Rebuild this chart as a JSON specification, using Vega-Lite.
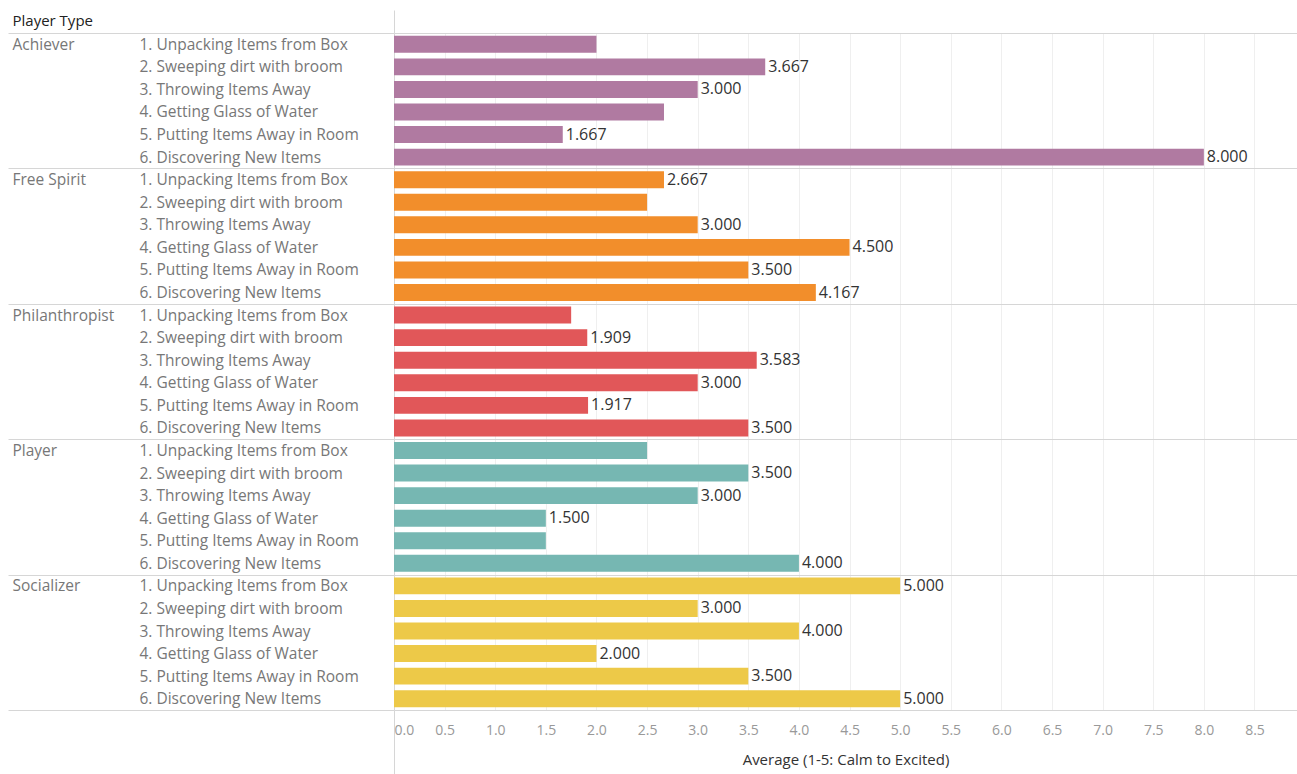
{
  "$schema": "https://vega.github.io/schema/vega-lite/v6.json",
  "width": 903,
  "height": 677,
  "padding": {"left": 7, "top": 9, "right": 0, "bottom": 0},
  "background": "white",
  "config": {"view": {"stroke": null}, "font": "Open Sans"},
  "data": {"values": [
    {"type": "Achiever", "activity": "1. Unpacking Items from Box", "value": 2.0, "shown": false},
    {"type": "Achiever", "activity": "2. Sweeping dirt with broom", "value": 3.667, "shown": true},
    {"type": "Achiever", "activity": "3. Throwing Items Away", "value": 3.0, "shown": true},
    {"type": "Achiever", "activity": "4. Getting Glass of Water", "value": 2.667, "shown": false},
    {"type": "Achiever", "activity": "5. Putting Items Away in Room", "value": 1.667, "shown": true},
    {"type": "Achiever", "activity": "6. Discovering New Items", "value": 8.0, "shown": true},
    {"type": "Free Spirit", "activity": "1. Unpacking Items from Box", "value": 2.667, "shown": true},
    {"type": "Free Spirit", "activity": "2. Sweeping dirt with broom", "value": 2.5, "shown": false},
    {"type": "Free Spirit", "activity": "3. Throwing Items Away", "value": 3.0, "shown": true},
    {"type": "Free Spirit", "activity": "4. Getting Glass of Water", "value": 4.5, "shown": true},
    {"type": "Free Spirit", "activity": "5. Putting Items Away in Room", "value": 3.5, "shown": true},
    {"type": "Free Spirit", "activity": "6. Discovering New Items", "value": 4.167, "shown": true},
    {"type": "Philanthropist", "activity": "1. Unpacking Items from Box", "value": 1.75, "shown": false},
    {"type": "Philanthropist", "activity": "2. Sweeping dirt with broom", "value": 1.909, "shown": true},
    {"type": "Philanthropist", "activity": "3. Throwing Items Away", "value": 3.583, "shown": true},
    {"type": "Philanthropist", "activity": "4. Getting Glass of Water", "value": 3.0, "shown": true},
    {"type": "Philanthropist", "activity": "5. Putting Items Away in Room", "value": 1.917, "shown": true},
    {"type": "Philanthropist", "activity": "6. Discovering New Items", "value": 3.5, "shown": true},
    {"type": "Player", "activity": "1. Unpacking Items from Box", "value": 2.5, "shown": false},
    {"type": "Player", "activity": "2. Sweeping dirt with broom", "value": 3.5, "shown": true},
    {"type": "Player", "activity": "3. Throwing Items Away", "value": 3.0, "shown": true},
    {"type": "Player", "activity": "4. Getting Glass of Water", "value": 1.5, "shown": true},
    {"type": "Player", "activity": "5. Putting Items Away in Room", "value": 1.5, "shown": false},
    {"type": "Player", "activity": "6. Discovering New Items", "value": 4.0, "shown": true},
    {"type": "Socializer", "activity": "1. Unpacking Items from Box", "value": 5.0, "shown": true},
    {"type": "Socializer", "activity": "2. Sweeping dirt with broom", "value": 3.0, "shown": true},
    {"type": "Socializer", "activity": "3. Throwing Items Away", "value": 4.0, "shown": true},
    {"type": "Socializer", "activity": "4. Getting Glass of Water", "value": 2.0, "shown": true},
    {"type": "Socializer", "activity": "5. Putting Items Away in Room", "value": 3.5, "shown": true},
    {"type": "Socializer", "activity": "6. Discovering New Items", "value": 5.0, "shown": true}
  ]},
  "transform": [{"calculate": "datum.type + '|' + datum.activity", "as": "key"}],
  "layer": [
    {
      "mark": {"type": "bar"},
      "encoding": {
        "y": {
          "field": "type", "type": "nominal", "sort": null,
          "scale": {"paddingInner": 0, "paddingOuter": 0},
          "axis": {
            "orient": "left",
            "title": "Player Type", "titleAngle": 0, "titleX": -382, "titleY": -13,
            "titleAlign": "left", "titleBaseline": "middle", "titleFontSize": 15,
            "titleFontWeight": "normal", "titleColor": "#222",
            "tickBand": "extent", "ticks": true, "tickSize": 386, "tickColor": "#d6d6d6",
            "grid": true, "gridColor": "#d6d6d6",
            "domain": true, "domainColor": "#d6d6d6",
            "labelAlign": "left", "labelBaseline": "middle", "labelPadding": -4,
            "labelOffset": -56.4, "labelFontSize": 15.5, "labelColor": "#777", "labelLimit": 300
          }
        },
        "yOffset": {
          "field": "activity", "type": "nominal", "sort": null,
          "scale": {"paddingInner": 0.25, "paddingOuter": 0.125}
        },
        "x": {
          "field": "value", "type": "quantitative",
          "scale": {"domain": [0, 8.92], "nice": false, "zero": true},
          "axis": {
            "orient": "bottom",
            "values": [0, 0.5, 1, 1.5, 2, 2.5, 3, 3.5, 4, 4.5, 5, 5.5, 6, 6.5, 7, 7.5, 8, 8.5],
            "format": ".1f", "grid": true, "gridColor": "#efefef", "domain": false,
            "ticks": true, "tickSize": 64, "tickColor": "#d6d6d6",
            "tickOpacity": {"condition": {"test": "datum.value === 0", "value": 1}, "value": 0},
            "labelPadding": -51, "labelFontSize": 14, "labelColor": "#999", "labelFlush": true,
            "title": "Average (1-5: Calm to Excited)", "titlePadding": -22,
            "titleFontSize": 15, "titleFontWeight": "normal", "titleColor": "#333"
          }
        },
        "color": {
          "field": "type", "type": "nominal", "sort": null,
          "scale": {
            "domain": ["Achiever", "Free Spirit", "Philanthropist", "Player", "Socializer"],
            "range": ["#b07aa1", "#f28e2b", "#e15759", "#76b7b2", "#edc948"]
          },
          "legend": null
        }
      }
    },
    {
      "mark": {"type": "text", "align": "left", "baseline": "middle", "dx": 3, "fontSize": 16, "color": "#333"},
      "encoding": {
        "y": {
          "field": "key", "type": "nominal", "sort": null,
          "scale": {"paddingInner": 0, "paddingOuter": 0},
          "axis": {
            "orient": "left", "title": null, "domain": false, "ticks": false, "grid": false,
            "labelAlign": "left", "labelBaseline": "middle", "labelPadding": 255,
            "labelExpr": "split(datum.value, '|')[1]",
            "labelFontSize": 15.5, "labelColor": "#777", "labelLimit": 300
          }
        },
        "x": {
          "field": "value", "type": "quantitative",
          "axis": {
            "orient": "top", "values": [0], "labels": false, "domain": false, "grid": false,
            "ticks": true, "tickSize": 23, "tickColor": "#d6d6d6", "title": null
          }
        },
        "text": {
          "condition": {"test": "datum.shown", "field": "value", "type": "quantitative", "format": ".3f"},
          "value": ""
        }
      }
    }
  ],
  "resolve": {"scale": {"y": "independent"}, "axis": {"x": "independent"}}
}
